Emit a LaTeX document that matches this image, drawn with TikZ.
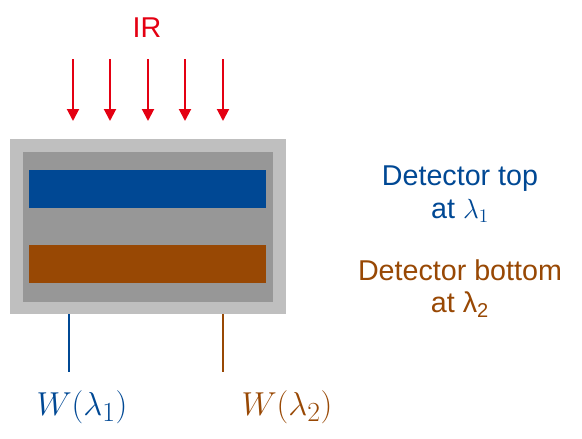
\documentclass[tikz,border=0pt]{standalone}
\usepackage{fontspec}
\setmainfont{Liberation Sans}
\usetikzlibrary{arrows.meta,positioning}
\definecolor{irred}{RGB}{228,0,18}
\definecolor{topblue}{RGB}{0,72,148}
\definecolor{botbrown}{RGB}{152,72,4}
\definecolor{caselight}{RGB}{191,191,191}
\definecolor{wellgray}{RGB}{151,151,151}

\begin{document}
\begin{tikzpicture}[x=0.75pt, y=-0.75pt,
    slab/.style={inner sep=0pt, minimum width=177.75pt, minimum height=28.5pt},
    irarrow/.style={-{Triangle[length=9pt,width=9pt]}, line width=1.5pt, irred},
    lead/.style={line width=1.8pt},
    tag/.style={align=center, font=\fontsize{21.5}{24.5}\selectfont},
    wtag/.style={font=\fontsize{30}{32}\selectfont}]
  \useasboundingbox (0,0) rectangle (582,439);

  \node[fill=caselight, inner sep=0pt, minimum width=207pt, minimum height=131.25pt] (case) at (148,226.5) {};
  \node[fill=wellgray, inner sep=0pt, minimum width=187.5pt, minimum height=112.5pt] (well) at (148,227) {};
  \node[slab, fill=topblue] (topdet) at (147.5,189) {};
  \node[slab, fill=botbrown] (botdet) at (147.5,264) {};

  \node[tag, text=irred] (ir) at (147,28) {IR};
  \foreach \x in {73,110,148,185,223}
    \draw[irarrow] (\x,59) -- (\x,121);

  \node[tag, text=topblue] (toptag) at (460,194) {Detector top\\at $\lambda_1$};
  \node[tag, text=botbrown] (bottag) at (460,288.5) {Detector bottom\\at λ\textsubscript{2}};

  \coordinate (lead1) at (69,372);
  \coordinate (lead2) at (223,372);
  \draw[lead, topblue] (case.south -| lead1) -- (lead1);
  \draw[lead, botbrown] (case.south -| lead2) -- (lead2);

  \node[wtag, text=topblue] (w1) at (82,407) {$W(\lambda_1)$};
  \node[wtag, text=botbrown] (w2) at (287,407) {$W(\lambda_2)$};
\end{tikzpicture}
\end{document}
